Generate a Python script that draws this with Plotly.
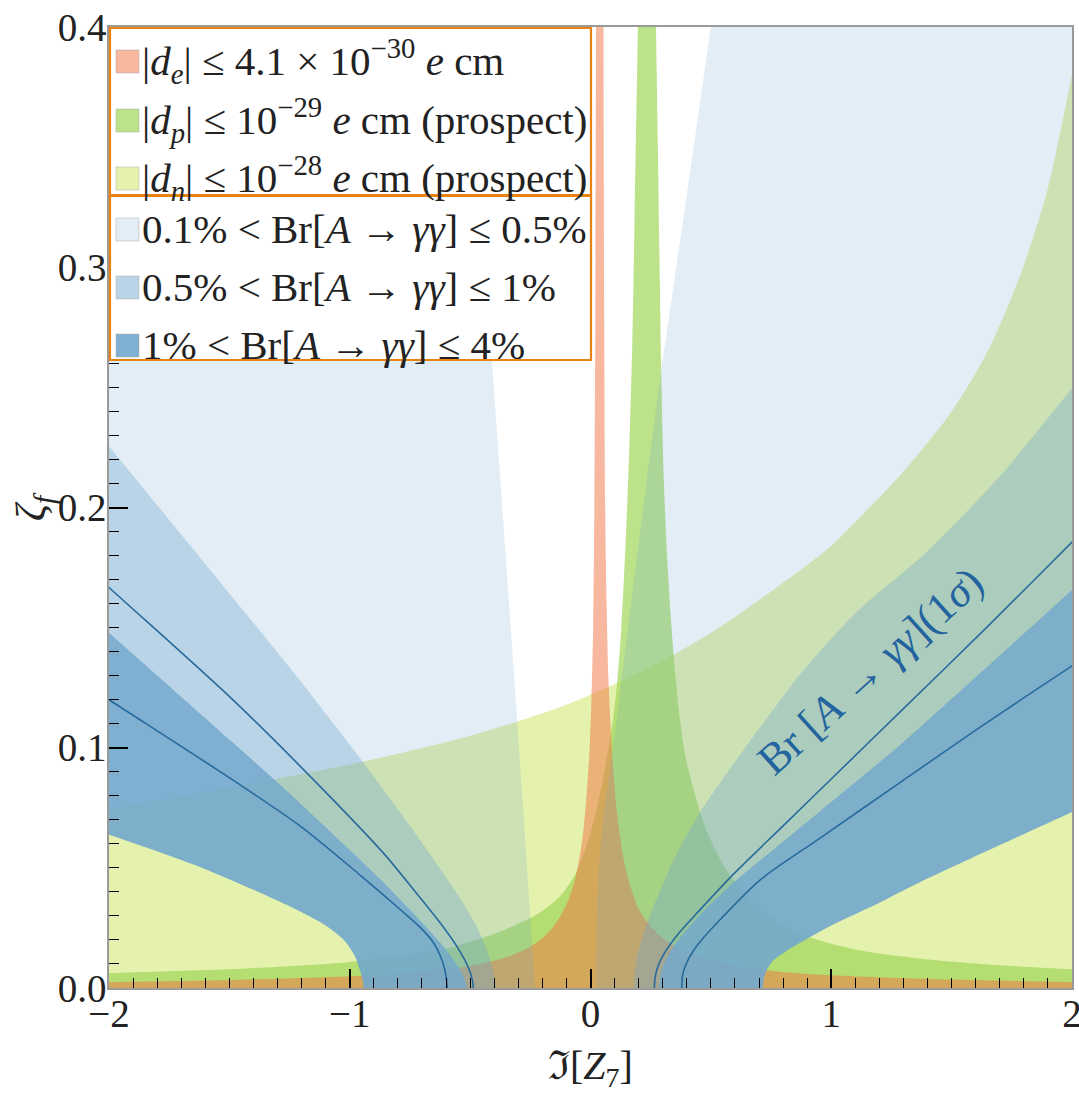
import plotly.graph_objects as go

# ---------------- data ----------------
# |d_n| <= 1e-28 e cm (prospect): allowed region lies below this curve
dn_x = [-2.0, -1.5, -1.0, -0.5, -0.125, 0.1, 0.35, 0.55, 0.79, 1.0, 1.12, 1.3, 1.5, 1.65, 1.786, 1.9, 2.0]
dn_y = [0.0745, 0.0835, 0.093, 0.105, 0.117, 0.1265, 0.139, 0.151, 0.168, 0.184, 0.196, 0.215, 0.240, 0.265, 0.297, 0.333, 0.380]

# |d_p| <= 1e-29 e cm (prospect): left edge (x=-2 -> top) and right edge (top -> x=2)
dp_left_x = [-2.0, -1.5, -1.0, -0.6, -0.35, -0.2, -0.12, -0.06, -0.02, 0.02, 0.05, 0.075, 0.095, 0.11, 0.128, 0.148, 0.163, 0.174, 0.183, 0.197]
dp_left_y = [0.0062, 0.0078, 0.0108, 0.0165, 0.0245, 0.032, 0.039, 0.048, 0.058, 0.072, 0.086, 0.10, 0.113, 0.126, 0.15, 0.19, 0.23, 0.27, 0.32, 0.40]
dp_right_x = [0.272, 0.28, 0.287, 0.295, 0.305, 0.318, 0.333, 0.35, 0.37, 0.395, 0.43, 0.48, 0.56, 0.65, 0.75, 0.9, 1.1, 1.37, 1.7, 2.0]
dp_right_y = [0.40, 0.35, 0.30, 0.25, 0.21, 0.18, 0.155, 0.133, 0.113, 0.096, 0.082, 0.066, 0.050, 0.038, 0.0295, 0.0215, 0.016, 0.0122, 0.0095, 0.0078]

# |d_e| <= 4.1e-30 e cm: left edge (x=-2 -> top) and right edge (top -> x=2)
de_left_x = [-2.0, -1.5, -1.0, -0.7, -0.5, -0.35, -0.25, -0.18, -0.13, -0.09, -0.06, -0.035, -0.018, -0.005, 0.004, 0.011, 0.016, 0.02, 0.023]
de_left_y = [0.0024, 0.0033, 0.0049, 0.0068, 0.0092, 0.0128, 0.0172, 0.0225, 0.029, 0.037, 0.047, 0.061, 0.078, 0.097, 0.12, 0.15, 0.20, 0.28, 0.40]
de_right_x = [0.054, 0.057, 0.061, 0.067, 0.074, 0.083, 0.095, 0.11, 0.13, 0.155, 0.2, 0.26, 0.35, 0.5, 0.75, 1.0, 1.5, 2.0]
de_right_y = [0.40, 0.28, 0.20, 0.16, 0.13, 0.11, 0.09, 0.073, 0.058, 0.046, 0.033, 0.0245, 0.0175, 0.0118, 0.0072, 0.0053, 0.0035, 0.0025]

# Br[A -> gamma gamma] contours, left branch (from x=-2 down to the axis)
br05_left_x = [-2.0, -1.476, -1.2, -0.956, -0.75, -0.62, -0.53, -0.47, -0.43, -0.407, -0.397, -0.395]
br05_left_y = [0.2255, 0.1613, 0.1272, 0.0955, 0.0675, 0.049, 0.0355, 0.025, 0.016, 0.008, 0.003, 0.0]
br1_left_x = [-2.0, -1.5, -1.26, -1.0, -0.85, -0.72, -0.62, -0.56, -0.525, -0.513]
br1_left_y = [0.148, 0.1035, 0.082, 0.0575, 0.043, 0.0295, 0.0185, 0.0105, 0.0045, 0.0]
br4_left_x = [-2.0, -1.62, -1.26, -1.1, -1.02, -0.98, -0.958, -0.946, -0.942]
br4_left_y = [0.0639, 0.0503, 0.0345, 0.026, 0.0195, 0.0135, 0.0075, 0.003, 0.0]
# 0.1 % contour, left (straight edge): bottom -> top
br01_left_x = [-0.23, -0.31, -0.507]
br01_left_y = [0.0, 0.119, 0.4]

# right branch (from the axis up to x=2)
br05_right_x = [0.18, 0.183, 0.195, 0.22, 0.27, 0.33, 0.39, 0.47, 0.567, 0.66, 0.76, 0.87, 1.1, 1.39, 1.7, 2.0]
br05_right_y = [0.0, 0.006, 0.0135, 0.0225, 0.036, 0.05, 0.062, 0.0755, 0.0895, 0.1025, 0.116, 0.1305, 0.156, 0.181, 0.213, 0.2496]
br1_right_x = [0.285, 0.288, 0.3, 0.33, 0.38, 0.45, 0.6, 0.8, 1.0, 1.3, 1.65, 2.0]
br1_right_y = [0.0, 0.004, 0.009, 0.015, 0.022, 0.030, 0.0445, 0.061, 0.0775, 0.1025, 0.134, 0.1658]
br4_right_x = [0.716, 0.72, 0.735, 0.76, 0.8, 0.9, 1.0, 1.2, 1.37, 1.7, 2.0]
br4_right_y = [0.0, 0.004, 0.008, 0.0115, 0.0145, 0.0205, 0.026, 0.0355, 0.0441, 0.0595, 0.0733]
# 0.1 % contour, right: bottom -> top
br01_right_x = [0.024, 0.025, 0.029, 0.04, 0.06, 0.085, 0.115, 0.15, 0.19, 0.24, 0.29, 0.4, 0.5]
br01_right_y = [0.0, 0.02, 0.037, 0.057, 0.076, 0.094, 0.117, 0.145, 0.177, 0.216, 0.254, 0.33, 0.4]

# Br 1-sigma lines
s_up_left_x = [-2.0, -1.483, -1.067, -0.85, -0.721, -0.62, -0.55, -0.505, -0.49, -0.487]
s_up_left_y = [0.1667, 0.1197, 0.0781, 0.055, 0.0392, 0.0265, 0.0165, 0.008, 0.003, 0.0]
s_lo_left_x = [-2.0, -1.483, -1.2, -0.957, -0.8, -0.7, -0.65, -0.615, -0.6, -0.595]
s_lo_left_y = [0.12, 0.0864, 0.067, 0.047, 0.0335, 0.0245, 0.0185, 0.011, 0.005, 0.0]
s_up_right_x = [0.265, 0.268, 0.28, 0.31, 0.36, 0.45, 0.6, 0.8, 1.0, 1.3, 1.65, 2.0]
s_up_right_y = [0.0, 0.004, 0.009, 0.015, 0.022, 0.032, 0.048, 0.0675, 0.087, 0.1163, 0.1505, 0.1856]
s_lo_right_x = [0.379, 0.382, 0.395, 0.428, 0.47, 0.539, 0.705, 0.955, 1.3, 1.62, 2.0]
s_lo_right_y = [0.0, 0.005, 0.0095, 0.0156, 0.021, 0.0285, 0.045, 0.0625, 0.0865, 0.1087, 0.1341]

legend_labels = [
    "|<i>d</i><sub><i>e</i></sub>| ≤ 4.1 × 10<sup>−30</sup> <i>e</i> cm",
    "|<i>d</i><sub><i>p</i></sub>| ≤ 10<sup>−29</sup> <i>e</i> cm (prospect)",
    "|<i>d</i><sub><i>n</i></sub>| ≤ 10<sup>−28</sup> <i>e</i> cm (prospect)",
    "0.1% &lt; Br[<i>A</i> → <i>γγ</i>] ≤ 0.5%",
    "0.5% &lt; Br[<i>A</i> → <i>γγ</i>] ≤ 1%",
    "1% &lt; Br[<i>A</i> → <i>γγ</i>] ≤ 4%",
]
line_label = "Br [<i>A</i> → <i>γγ</i>](1<i>σ</i>)"
x_title = "ℑ[<i>Z</i><sub>7</sub>]"
y_title = "<i>ζ</i><sub><i>f</i></sub>"
x_range = [-2, 2]
y_range = [0.0, 0.4]
x_ticks = [-2, -1, 0, 1, 2]
y_ticks = [0.0, 0.1, 0.2, 0.3, 0.4]

# ---------------- styles ----------------
C_DN = "rgb(228,242,174)"
C_DP = "rgba(159,214,88,0.7)"
C_DE = "rgba(241,113,65,0.5)"
C_LB = "rgba(113,167,205,0.205)"
C_MD = "rgba(113,167,205,0.485)"
C_DK = "rgba(113,167,205,0.9)"
C_LINE = "rgb(40,106,156)"
C_ORANGE = "rgb(232,131,18)"
FONT = "Liberation Serif, DejaVu Serif, serif"
SMOOTH = 0.8

W, H = 1079, 1096
ML, MR, MT, MB = 109, 7, 27, 108

# construction points lying outside the visible axes (hidden by clipping)
XL, XR = x_range[0] - 0.6, x_range[1] + 0.6
YB, YT = y_range[0] - 0.1, y_range[1] + 0.1


def curve(xs, ys):
    """boundary points, extended past both ends so that corners fall outside the axes"""
    pts = list(zip(xs, ys))
    s = (2 * xs[0] - xs[1], 2 * ys[0] - ys[1])
    e = (2 * xs[-1] - xs[-2], 2 * ys[-1] - ys[-2])
    return [s] + pts + [e]


def rev(xs, ys):
    return xs[::-1], ys[::-1]


fig = go.Figure()


def region(pts, color):
    xs = [p[0] for p in pts]
    ys = [p[1] for p in pts]
    fig.add_trace(go.Scatter(x=xs, y=ys, mode="lines", fill="toself", fillcolor=color,
                             line=dict(width=0, color=color, shape="spline", smoothing=SMOOTH),
                             hoverinfo="skip", showlegend=False))


# EDM regions (allowed bands, drawn underneath)
region(curve(dn_x, dn_y) + [(XR, YB), (XL, YB)], C_DN)
region(curve(dp_left_x, dp_left_y) + curve(dp_right_x, dp_right_y) + [(XR, YB), (XL, YB)], C_DP)
region(curve(de_left_x, de_left_y) + curve(de_right_x, de_right_y) + [(XR, YB), (XL, YB)], C_DE)

# Br bands, left branch
region([(XL, YT)] + curve(*rev(br01_left_x, br01_left_y)) + curve(*rev(br05_left_x, br05_left_y)), C_LB)
region(curve(br05_left_x, br05_left_y) + curve(*rev(br1_left_x, br1_left_y)), C_MD)
region(curve(br1_left_x, br1_left_y) + curve(*rev(br4_left_x, br4_left_y)), C_DK)
# Br bands, right branch
region(curve(br01_right_x, br01_right_y) + [(XR, YT)] + curve(*rev(br05_right_x, br05_right_y)), C_LB)
region(curve(br05_right_x, br05_right_y) + curve(*rev(br1_right_x, br1_right_y)), C_MD)
region(curve(br1_right_x, br1_right_y) + curve(*rev(br4_right_x, br4_right_y)), C_DK)

# 1-sigma lines
for xs, ys in [(s_up_left_x, s_up_left_y), (s_lo_left_x, s_lo_left_y),
               (s_up_right_x, s_up_right_y), (s_lo_right_x, s_lo_right_y)]:
    pts = curve(xs, ys)
    fig.add_trace(go.Scatter(x=[p[0] for p in pts], y=[p[1] for p in pts], mode="lines",
                             line=dict(color=C_LINE, width=1.6, shape="spline", smoothing=SMOOTH),
                             hoverinfo="skip", showlegend=False))

# label along the 1-sigma line
fig.add_annotation(x=1.165, y=0.132, xref="x", yref="y", text=line_label, showarrow=False,
                   xanchor="center", yanchor="middle",
                   textangle=-42, font=dict(family=FONT, size=44, color="rgb(35,100,158)"))


# ---------------- legend (drawn boxes) ----------------
def px_x(px):
    return (px - ML) / (W - ML - MR)


def px_y(py):
    return (H - MB - py) / (H - MT - MB)


box_x0, box_x1 = 110, 591
boxes = [(28, 195), (196, 360)]
for (t, b) in boxes:
    fig.add_shape(type="rect", xref="paper", yref="paper", x0=px_x(box_x0), x1=px_x(box_x1),
                  y0=px_y(b), y1=px_y(t), fillcolor="white", line=dict(color=C_ORANGE, width=2.2), layer="above")

sw_colors = [C_DE, C_DP, C_DN, C_LB, C_MD, C_DK]
row_bottoms = [73, 132, 190, 241, 299, 357]
for lab, col, bot in zip(legend_labels, sw_colors, row_bottoms):
    fig.add_shape(type="rect", xref="paper", yref="paper", x0=px_x(116), x1=px_x(139),
                  y0=px_y(bot), y1=px_y(bot - 23), fillcolor=col,
                  line=dict(color="rgba(170,170,170,0.6)", width=0.8), layer="above")
    fig.add_annotation(x=px_x(140), y=px_y(bot - 12), xref="paper", yref="paper", text=lab,
                       showarrow=False, xanchor="left", yanchor="middle",
                       font=dict(family=FONT, size=41, color="#222"))

# axis titles
fig.add_annotation(x=px_x(590), y=px_y(1068), xref="paper", yref="paper", text=x_title,
                   showarrow=False, xanchor="center", yanchor="middle",
                   font=dict(family=FONT, size=40, color="#222"))
fig.add_annotation(x=px_x(34), y=px_y(507), xref="paper", yref="paper", text=y_title,
                   showarrow=False, textangle=-90, xanchor="center", yanchor="middle",
                   font=dict(family=FONT, size=42, color="#222"))

fig.update_layout(
    width=W, height=H, margin=dict(l=ML, r=MR, t=MT, b=MB, autoexpand=False),
    plot_bgcolor="white", paper_bgcolor="white", showlegend=False,
    font=dict(family=FONT, size=39, color="#222"),
)
fig.update_xaxes(range=x_range, tickvals=x_ticks, ticks="inside", ticklen=19, tickwidth=1.6,
                 tickcolor="black", showline=True, linecolor="#9a9a9a", linewidth=1.5, mirror=True,
                 showgrid=False, zeroline=False, ticklabeloverflow="allow", ticklabelstandoff=-10,
                 automargin=False,
                 minor=dict(dtick=0.1, tick0=0, ticks="inside", ticklen=10, tickwidth=1.4, tickcolor="black", showgrid=False))
fig.update_yaxes(range=y_range, tickvals=y_ticks, tickformat=".1f", ticks="inside", ticklen=19, tickwidth=1.6,
                 tickcolor="black", showline=True, linecolor="#9a9a9a", linewidth=1.5, mirror=True,
                 showgrid=False, zeroline=False, ticklabeloverflow="allow", ticklabelstandoff=-7,
                 automargin=False,
                 minor=dict(dtick=0.01, tick0=0, ticks="inside", ticklen=10, tickwidth=1.4, tickcolor="black", showgrid=False))

fig.write_html("out.html", config={"displayModeBar": False},
               post_script="document.body.style.margin='0';document.body.style.overflow='hidden';")
